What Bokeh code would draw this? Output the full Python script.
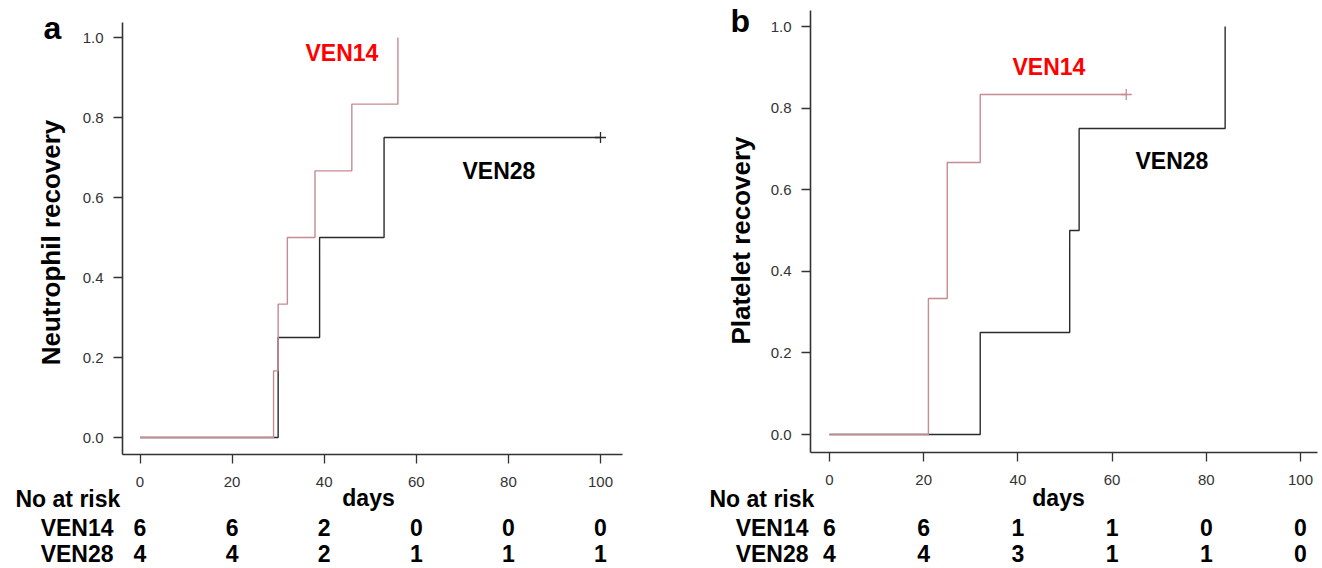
from math import pi
from bokeh.plotting import figure
from bokeh.layouts import row
from bokeh.models import Label, Range1d, FixedTicker, LinearAxis
from bokeh.embed import file_html
from bokeh.resources import INLINE

# ---------------- data ----------------
ticks_x = [0, 20, 40, 60, 80, 100]
ticks_y = [0.0, 0.2, 0.4, 0.6, 0.8, 1.0]
tick_y_labels = ["0.0", "0.2", "0.4", "0.6", "0.8", "1.0"]

# Panel a: neutrophil recovery (cumulative incidence steps)
a_ven14_t = [0, 29, 30, 32, 38, 46, 56]
a_ven14_s = [0, 1/6, 2/6, 3/6, 4/6, 5/6, 1.0]
a_ven28_t = [0, 30, 39, 53, 100]
a_ven28_s = [0, 0.25, 0.50, 0.75, 0.75]
a_cens14 = ([], [])
a_cens28 = ([100], [0.75])
a_risk14 = [6, 6, 2, 0, 0, 0]
a_risk28 = [4, 4, 2, 1, 1, 1]

# Panel b: platelet recovery
b_ven14_t = [0, 21, 25, 32, 63]
b_ven14_s = [0, 2/6, 4/6, 5/6, 5/6]
b_ven28_t = [0, 32, 51, 53, 84]
b_ven28_s = [0, 0.25, 0.50, 0.75, 1.0]
b_cens14 = ([63], [5/6])
b_cens28 = ([], [])
b_risk14 = [6, 6, 1, 1, 0, 0]
b_risk28 = [4, 4, 3, 1, 1, 0]

PINK = "#c48b93"
DARK = "#2b2b2b"
AX = "#333333"
FONT = "Liberation Sans"
W, H = 660, 568


def make_panel(letter, ylabel, t14, s14, t28, s28, c14, c28, r14, r28,
               page_left, x0px, kx, y0px, ky, ax_left_px, ax_right_px, ax_top_px, ax_bot_px,
               geom):
    # pixel (page) -> data conversions, from where day 0 / value 0 sit on the page
    def X(px):
        return (px - x0px) / kx

    def Y(py):
        return (y0px - py) / ky

    p = figure(width=W, height=H, output_backend="svg", toolbar_location=None,
               x_range=Range1d(X(page_left), X(page_left + W)),
               y_range=Range1d(Y(H), Y(0)),
               x_axis_type=None, y_axis_type=None,
               min_border=0, min_border_left=0, min_border_right=0,
               min_border_top=0, min_border_bottom=0)
    p.outline_line_color = None
    p.grid.visible = False
    p.background_fill_color = "white"
    p.border_fill_color = "white"

    xax = LinearAxis(ticker=FixedTicker(ticks=ticks_x), fixed_location=Y(ax_bot_px),
                     bounds=(X(ax_left_px), X(ax_right_px)))
    yax = LinearAxis(ticker=FixedTicker(ticks=ticks_y), fixed_location=X(ax_left_px),
                     bounds=(Y(ax_bot_px), Y(ax_top_px)))
    yax.major_label_overrides = dict(zip(ticks_y, tick_y_labels))
    for ax in (xax, yax):
        ax.axis_line_color = AX
        ax.axis_line_width = 1.6
        ax.major_tick_line_color = AX
        ax.major_tick_line_width = 1.3
        ax.major_tick_out = 9
        ax.major_tick_in = 0
        ax.minor_tick_line_color = None
        ax.major_label_text_font = FONT
        ax.major_label_text_font_size = "15px"
        ax.major_label_text_color = "#333333"
    xax.major_label_standoff = 13
    yax.major_label_standoff = 10
    p.add_layout(xax, "below")
    p.add_layout(yax, "left")

    # curves: dark first, pink on top
    p.step(t28, s28, mode="after", line_color=DARK, line_width=1.4)
    p.step(t14, s14, mode="after", line_color=PINK, line_width=1.4)
    if c28[0]:
        p.scatter(c28[0], c28[1], marker="cross", size=11, line_color=DARK, line_width=1.3)
    if c14[0]:
        p.scatter(c14[0], c14[1], marker="cross", size=11, line_color=PINK, line_width=1.3)

    def lab(text, px, py, size, color="black", align="left", angle=0.0, xdata=None):
        x = xdata if xdata is not None else X(px)
        p.add_layout(Label(x=x, y=Y(py), text=text, text_font=FONT,
                           text_font_size=f"{size}px", text_font_style="bold",
                           text_color=color, text_align=align, text_baseline="middle",
                           angle=angle))

    g = geom
    lab(letter, g["let"][0], g["let"][1], 32)
    lab(ylabel, g["ylab"][0], g["ylab"][1], 26, align="center", angle=pi / 2)
    lab("VEN14", g["v14"][0], g["v14"][1], 23, color="#ff0000")
    lab("VEN28", g["v28"][0], g["v28"][1], 23)
    lab("No at risk", g["nar"], 498, 23)
    lab("days", g["days"], 497, 23, align="center")
    lab("VEN14", g["rowlab"], 527, 23, align="right")
    lab("VEN28", g["rowlab"], 553, 23, align="right")
    for t, n14, n28 in zip(ticks_x, r14, r28):
        lab(str(n14), 0, 527, 23, align="center", xdata=t)
        lab(str(n28), 0, 553, 23, align="center", xdata=t)
    return p


pa = make_panel("a", "Neutrophil recovery", a_ven14_t, a_ven14_s, a_ven28_t, a_ven28_s,
                a_cens14, a_cens28, a_risk14, a_risk28,
                page_left=0, x0px=139.5, kx=4.605, y0px=437, ky=400,
                ax_left_px=122, ax_right_px=622, ax_top_px=22, ax_bot_px=454,
                geom={"let": (43, 27), "ylab": (50, 242), "v14": (305, 52), "v28": (462, 170),
                      "nar": 15, "days": 368, "rowlab": 113})

pb = make_panel("b", "Platelet recovery", b_ven14_t, b_ven14_s, b_ven28_t, b_ven28_s,
                b_cens14, b_cens28, b_risk14, b_risk28,
                page_left=660, x0px=829, kx=4.71, y0px=434, ky=408,
                ax_left_px=810, ax_right_px=1317, ax_top_px=10, ax_bot_px=452,
                geom={"let": (730, 20), "ylab": (740, 240), "v14": (1012, 66), "v28": (1135, 160),
                      "nar": 709, "days": 1058, "rowlab": 808})

layout = row(pa, pb)
open("out.html", "w").write(file_html(layout, INLINE))
